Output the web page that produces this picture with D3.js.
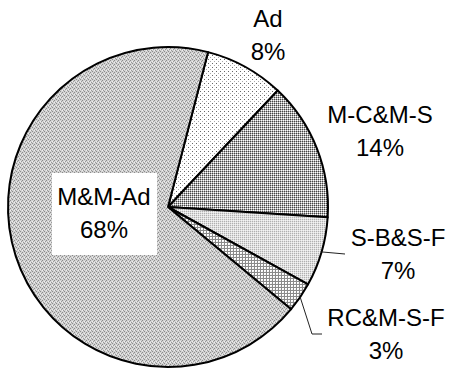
<!DOCTYPE html>
<html>
<head>
<meta charset="utf-8">
<script src="https://cdn.jsdelivr.net/npm/d3@7"></script>
<style>
  html, body { margin: 0; padding: 0; background: #fff; }
  svg { display: block; }
  text { font-family: "Liberation Sans", Arial, sans-serif; font-size: 24px; fill: #000; }
</style>
</head>
<body>
<svg id="chart" width="450" height="371"></svg>
<script>
// Share of each category (percent)
const categories = ["Ad", "M-C&M-S", "S-B&S-F", "RC&M-S-F", "M&M-Ad"];
const values = [8, 14, 7, 3, 68];
const valueLabels = ["8%", "14%", "7%", "3%", "68%"];

const svg = d3.select("#chart");
const cx = 168, cy = 207, radius = 160;
const startDeg = 14.5;

// Monochrome fill patterns, one per slice
const defs = svg.append("defs");
function pattern(id, size, bg, dots) {
  const p = defs.append("pattern")
    .attr("id", id).attr("patternUnits", "userSpaceOnUse")
    .attr("width", size).attr("height", size);
  p.append("rect").attr("width", size).attr("height", size).attr("fill", bg);
  dots.forEach(([x, y, c]) => p.append("rect").attr("x", x).attr("y", y)
    .attr("width", 1).attr("height", 1).attr("fill", c));
}
// Ad: sparse dots on white
pattern("pAd", 4, "#ffffff", [[0, 0, "#666"], [2, 2, "#aaa"]]);
// M-C&M-S: darker speckle
pattern("pMC", 2, "#b0b0b0", [[0, 0, "#444"], [1, 1, "#fff"]]);
// S-B&S-F: light fine texture
pattern("pSB", 2, "#e0e0e0", [[0, 0, "#b0b0b0"], [1, 1, "#f4f4f4"]]);
// RC&M-S-F: grid of small white squares
pattern("pRC", 3, "#8a8a8a", [[0, 0, "#fff"], [1, 0, "#fff"], [0, 1, "#fff"], [1, 1, "#eee"]]);
// M&M-Ad: fine grey dither
pattern("pMM", 4, "#d2d2d2", [
  [0, 0, "#8c8c8c"], [2, 1, "#8c8c8c"], [1, 2, "#9a9a9a"], [3, 3, "#9a9a9a"],
  [2, 3, "#eeeeee"], [0, 2, "#eeeeee"]
]);
const fills = ["url(#pAd)", "url(#pMC)", "url(#pSB)", "url(#pRC)", "url(#pMM)"];

const pie = d3.pie().sort(null)
  .startAngle(startDeg * Math.PI / 180)
  .endAngle(startDeg * Math.PI / 180 + 2 * Math.PI);
const arc = d3.arc().innerRadius(0).outerRadius(radius);

const g = svg.append("g").attr("transform", `translate(${cx},${cy})`);
const arcs = pie(values);

g.selectAll("path.slice").data(arcs).enter().append("path")
  .attr("class", "slice")
  .attr("d", arc)
  .attr("fill", (d, i) => fills[i])
  .attr("stroke", "#000")
  .attr("stroke-width", 2)
  .attr("stroke-linejoin", "round");

// Leader lines for the two narrow slices
const leaders = [
  { idx: 2, pts: [[345, 254]] },
  { idx: 3, pts: [[312, 334], [322, 334]] }
];
leaders.forEach(l => {
  const a = arcs[l.idx];
  const mid = (a.startAngle + a.endAngle) / 2;
  const x0 = cx + Math.sin(mid) * radius;
  const y0 = cy - Math.cos(mid) * radius;
  const pts = [[x0, y0]].concat(l.pts);
  svg.append("path")
    .attr("d", d3.line()(pts))
    .attr("fill", "none")
    .attr("stroke", "#222")
    .attr("stroke-width", 1);
});

// Label positions (centre x, baseline of first line)
const labelPos = [
  [268, 27], [380, 123], [398, 246], [386, 326], [104, 205]
];
const lineGap = 33;

// White backing box behind the label that sits inside the pie
const mm = labelPos[4];
svg.append("rect")
  .attr("x", mm[0] - 52).attr("y", mm[1] - 32)
  .attr("width", 105).attr("height", 82)
  .attr("fill", "#fff");

labelPos.forEach((p, i) => {
  const t = svg.append("text").attr("text-anchor", "middle");
  t.append("tspan").attr("x", p[0]).attr("y", p[1]).text(categories[i]);
  t.append("tspan").attr("x", p[0]).attr("y", p[1] + lineGap).text(valueLabels[i]);
});
</script>
</body>
</html>
